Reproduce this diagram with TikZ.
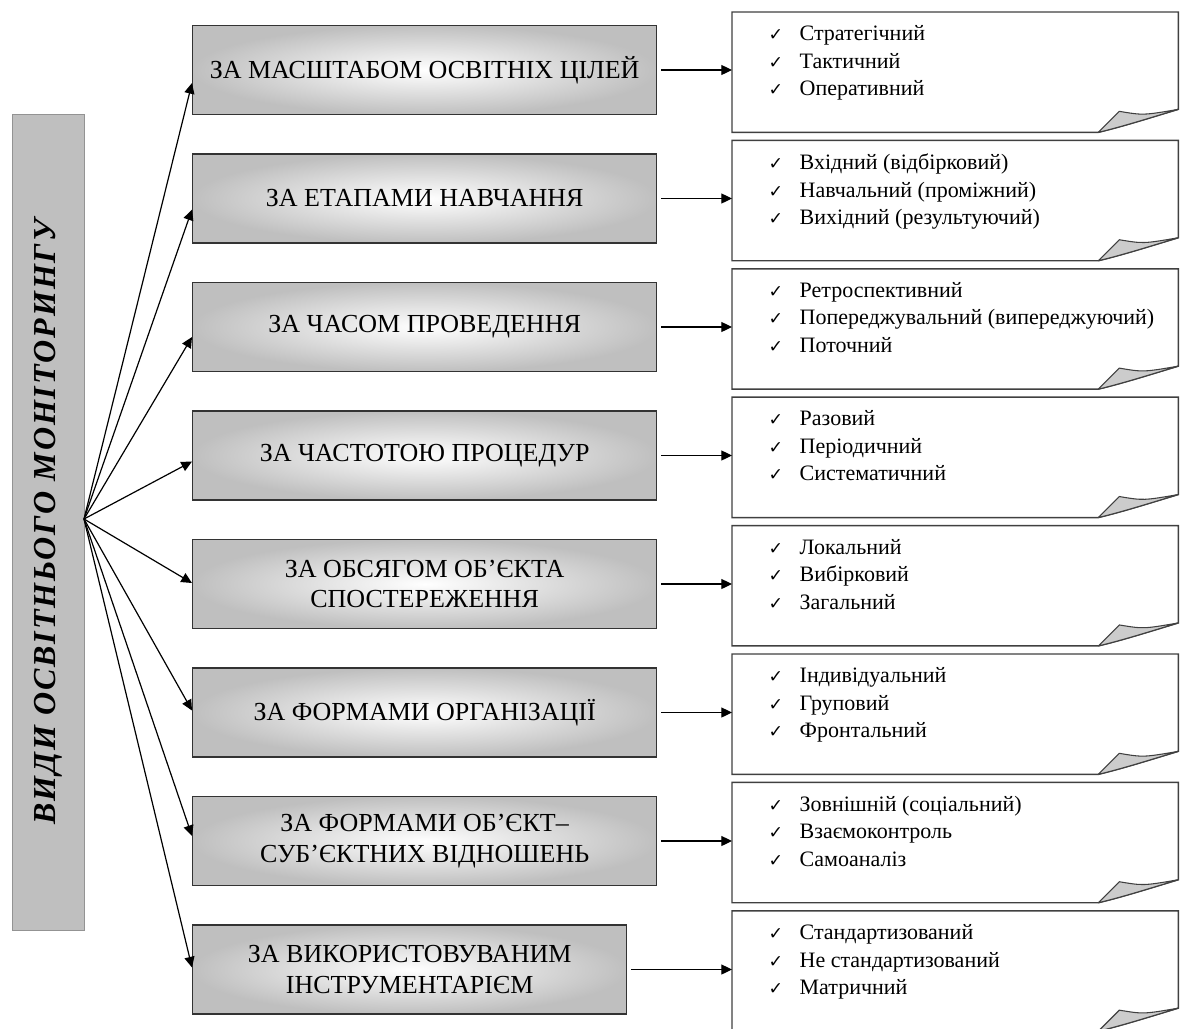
\documentclass[tikz,border=0pt]{standalone}
\usepackage{fontspec}
\setmainfont{Liberation Serif}
\newfontfamily\symfont{DejaVu Sans}
\newfontfamily\vidfont[LetterSpace=6]{Liberation Serif}
\usetikzlibrary{arrows.meta}

\newcommand{\chk}{\makebox[23.25pt][l]{\symfont\fontsize{13}{13}\selectfont ✓}}

\tikzset{every picture/.style={line width=1pt}}
\tikzset{
  vidbox/.style={draw=gray!85, fill=gray!50, line width=0.75pt, rotate=90,
    minimum width=612pt, minimum height=54pt, inner sep=0pt,
    font=\vidfont\fontsize{24}{26}\selectfont\bfseries\itshape},
  kindbox/.style={draw=black!80, inner color=white, outer color=gray!50, anchor=west,
    minimum height=66.75pt, align=center, inner sep=0pt,
    font=\fontsize{19.5}{23}\selectfont},
  notebox/.style={minimum width=333.75pt, minimum height=89.25pt, inner sep=0pt, anchor=north west},
  notetext/.style={anchor=north west, align=left, inner sep=0pt,
    font=\fontsize{16.5}{20.6}\selectfont},
  arr/.style={-{Triangle[length=8pt,width=7.5pt]}, line width=0.9pt}
}

\begin{document}
\begin{tikzpicture}[x=0.75pt,y=0.75pt,yscale=-1,xscale=1]
	\useasboundingbox (0,0) rectangle (1181,1028);

	% Left box
	\node[vidbox] (vid) at (48,522) {ВИДИ ОСВІТНЬОГО МОНІТОРИНГУ};
	\coordinate (hub) at (84,519);

	% Kinds and their notes
	\foreach \i/\w/\off/\ttl/\pa/\pb/\pc in {
		1/348/13/{ЗА МАСШТАБОМ ОСВІТНІХ ЦІЛЕЙ}/Стратегічний/Тактичний/Оперативний,
		2/348/11/{ЗА ЕТАПАМИ НАВЧАННЯ}/Вхідний (відбірковий)/Навчальний (проміжний)/Вихідний (результуючий),
		3/348/10/{ЗА ЧАСОМ ПРОВЕДЕННЯ}/Ретроспективний/Попереджувальний (випереджуючий)/Поточний,
		4/348/6/{ЗА ЧАСТОТОЮ ПРОЦЕДУР}/Разовий/Періодичний/Систематичний,
		5/348/-1/{ЗА ОБСЯГОМ ОБ’ЄКТА\\СПОСТЕРЕЖЕННЯ}/Локальний/Вибірковий/Загальний,
		6/348/-2/{ЗА ФОРМАМИ ОРГАНІЗАЦІЇ}/Індивідуальний/Груповий/Фронтальний,
		7/348/-5/{ЗА ФОРМАМИ ОБ’ЄКТ–\\СУБ’ЄКТНИХ ВІДНОШЕНЬ}/Зовнішній (соціальний)/Взаємоконтроль/Самоаналіз,
		8/325.5/-2/{ЗА ВИКОРИСТОВУВАНИМ\\ІНСТРУМЕНТАРІЄМ}/Стандартизований/Не стандартизований/Матричний}{
		\pgfmathsetmacro{\ym}{70+128.5*(\i-1)}
		\pgfmathsetmacro{\yn}{12+128.4*(\i-1)}
		\node[kindbox, minimum width=\w pt] (k\i) at (192,\ym) {\ttl};
		\node[notebox] (n\i) at (732,\yn) {};
		% note with folded corner
		\draw[draw=black!75, fill=white, line width=1.1pt] (n\i.north west) -- (n\i.north east)
			-- ([shift={(0,-23)}]n\i.south east)
			.. controls ([shift={(-30,-14)}]n\i.south east) and ([shift={(-55,-6)}]n\i.south east) .. ([shift={(-80,0)}]n\i.south east)
			-- (n\i.south west) -- cycle;
		\draw[draw=black!75, fill=gray!40, line width=0.8pt] ([shift={(-80,0)}]n\i.south east)
			-- ([shift={(-59,-21)}]n\i.south east)
			.. controls ([shift={(-35,-17)}]n\i.south east) .. ([shift={(0,-23)}]n\i.south east)
			.. controls ([shift={(-30,-14)}]n\i.south east) and ([shift={(-55,-6)}]n\i.south east) .. ([shift={(-80,0)}]n\i.south east);
		\node[notetext] (t\i) at ([shift={(36,13)}]n\i.north west) {\chk\pa\\\chk\pb\\\chk\pc};
		% connectors
		\draw[arr] (hub) -- ([shift={(0,\off)}]k\i.west);
		\draw[arr, shorten <=3pt] (k\i.east) -- (k\i.east -| n\i.west);
	}

\end{tikzpicture}
\end{document}
